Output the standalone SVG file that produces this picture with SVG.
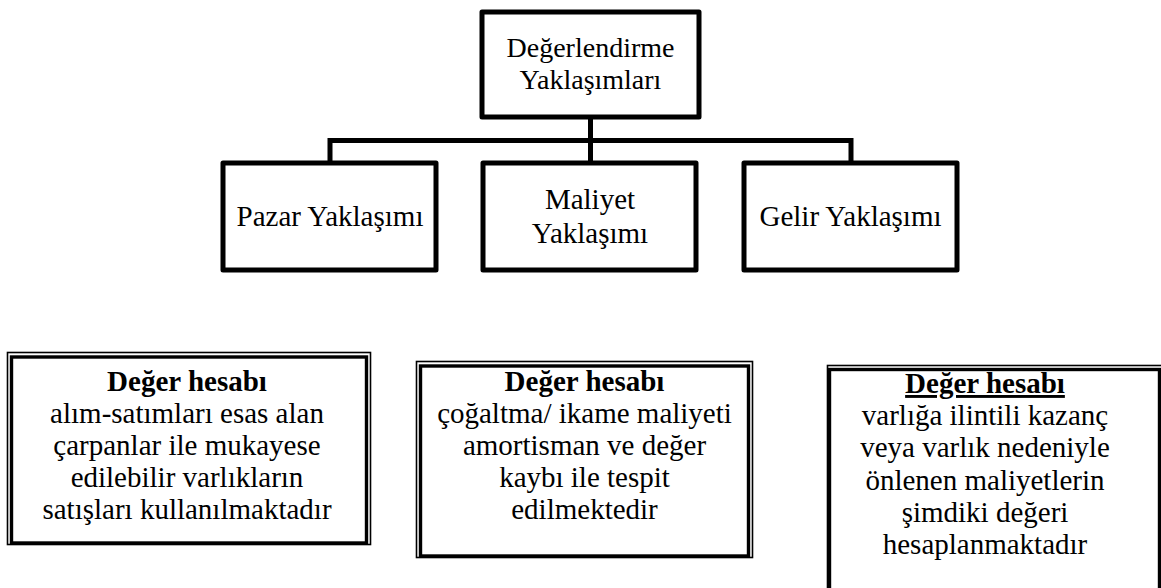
<svg xmlns="http://www.w3.org/2000/svg" width="1161" height="588" viewBox="0 0 1161 588">
<style>
.box{fill:#fff;stroke:#000;stroke-width:5;stroke-linejoin:round}
.thin{fill:none;stroke:#000;stroke-width:1.6}
.thick{fill:none;stroke:#000;stroke-width:3.4}
.conn{fill:none;stroke:#000;stroke-width:5;stroke-linecap:square}
text{font-family:"Liberation Serif","Times New Roman",serif;font-size:29px;fill:#000;text-anchor:middle}
.t{font-size:28px}
.b{font-weight:bold}
</style>
<rect width="1161" height="588" fill="#fff"/>
<g id="connectors">
<path class="conn" d="M590.5 117V140.5M330 140.5H851M330 140.5V163M590.5 140.5V163M851 140.5V163"/>
</g>
<g id="root">
<rect class="box" x="482" y="12" width="217" height="105"/>
<text class="t" x="590.5" y="57">Değerlendirme</text>
<text class="t" x="590.5" y="89">Yaklaşımları</text>
</g>
<g id="pazar">
<rect class="box" x="223" y="163" width="213" height="107"/>
<text x="330" y="226">Pazar Yaklaşımı</text>
</g>
<g id="maliyet">
<rect class="box" x="483" y="163" width="213" height="107"/>
<text x="590" y="209">Maliyet</text>
<text x="590" y="243">Yaklaşımı</text>
</g>
<g id="gelir">
<rect class="box" x="744" y="163" width="213" height="107"/>
<text x="850.5" y="226">Gelir Yaklaşımı</text>
</g>
<g id="pazar-desc">
<rect class="thin" x="7.5" y="352.5" width="363" height="192"/>
<rect class="thick" x="11.5" y="357" width="355" height="186"/>
<text class="b" x="187" y="391">Değer hesabı</text>
<text x="187" y="423">alım-satımları esas alan</text>
<text x="187" y="455">çarpanlar ile mukayese</text>
<text x="187" y="487">edilebilir varlıkların</text>
<text x="187" y="519">satışları kullanılmaktadır</text>
</g>
<g id="maliyet-desc">
<rect class="thin" x="416.5" y="361.5" width="336" height="196"/>
<rect class="thick" x="420.5" y="366" width="328" height="190"/>
<text class="b" x="584.5" y="391">Değer hesabı</text>
<text x="584.5" y="423">çoğaltma/ ikame maliyeti</text>
<text x="584.5" y="455">amortisman ve değer</text>
<text x="584.5" y="487">kaybı ile tespit</text>
<text x="584.5" y="519">edilmektedir</text>
</g>
<g id="gelir-desc">
<rect class="thin" x="827.5" y="365.5" width="340" height="240"/>
<rect class="thick" x="829.5" y="369.5" width="330" height="240"/>
<text class="b" x="985" y="393" text-decoration="underline">Değer hesabı</text>
<text x="985" y="425">varlığa ilintili kazanç</text>
<text x="985" y="457">veya varlık nedeniyle</text>
<text x="985" y="490">önlenen maliyetlerin</text>
<text x="985" y="522">şimdiki değeri</text>
<text x="985" y="554">hesaplanmaktadır</text>
</g>
</svg>
